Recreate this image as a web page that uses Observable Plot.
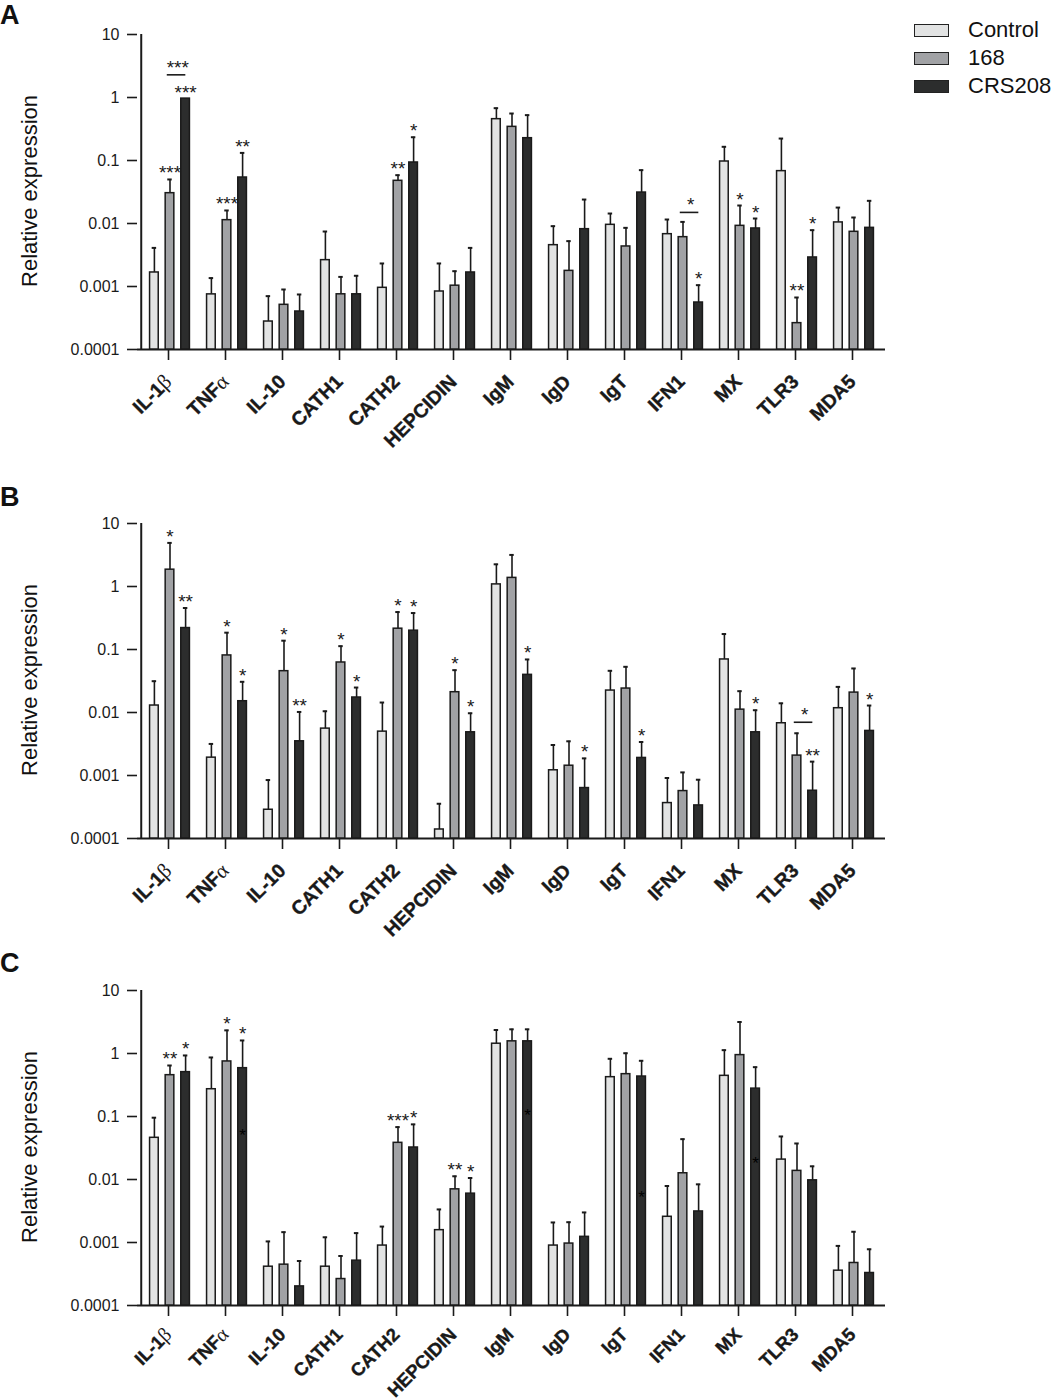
<!DOCTYPE html>
<html>
<head>
<meta charset="utf-8">
<script src="https://cdn.jsdelivr.net/npm/d3@7"></script>
<script src="https://cdn.jsdelivr.net/npm/@observablehq/plot@0.6"></script>
<style>
  html, body { margin: 0; padding: 0; background: #fff; }
  body { font-family: "Liberation Sans", Arial, sans-serif; color: #111; }
  #wrap { position: relative; width: 1054px; height: 1400px; overflow: hidden; background: #fff; }
  .panel { position: absolute; left: 0; }
  .letter { position: absolute; left: 0; font-weight: bold; font-size: 27px; line-height: 27px; }
  .ylab { position: absolute; left: 30px; font-size: 22px; line-height: 22px; white-space: nowrap;
          transform: translate(-50%, -50%) rotate(-90deg); }
  .legend { position: absolute; left: 914px; top: 16px; }
  .legend .row { height: 28px; display: flex; align-items: center; }
  .legend .sw { width: 35px; height: 13px; box-sizing: border-box; border: 1.5px solid #222; margin-right: 19px; }
  .legend .lb { font-size: 22px; line-height: 22px; white-space: nowrap; }
</style>
</head>
<body>
<div id="wrap"></div>
<script>
// ---------- data ----------
const genes = ["IL-1β", "TNFα", "IL-10", "CATH1", "CATH2", "HEPCIDIN", "IgM", "IgD", "IgT", "IFN1", "MX", "TLR3", "MDA5"];
const groups = ["Control", "168", "CRS208"];
const groupColors = ["#e2e3e3", "#a1a2a5", "#2c2d2d"];
const yTicks = [0.0001, 0.001, 0.01, 0.1, 1, 10];
const yTickLabels = ["0.0001", "0.001", "0.01", "0.1", "1", "10"];
const panelLetters = ["A", "B", "C"];
const yTitle = "Relative expression";

// Panel A
const controlA    = [0.00167, 0.00075, 0.000278, 0.00262, 0.000953, 0.000833, 0.453, 0.00453, 0.00953, 0.00677, 0.0964, 0.0678, 0.0104];
const controlAErr = [0.0041, 0.00136, 0.000703, 0.00746, 0.00232, 0.00232, 0.677, 0.00907, 0.0144, 0.01157, 0.165, 0.223, 0.0179];
const g168A       = [0.0303, 0.0113, 0.000512, 0.000752, 0.0476, 0.00103, 0.342, 0.00177, 0.00432, 0.00607, 0.00918, 0.000262, 0.00738];
const g168AErr    = [0.050, 0.0161, 0.000896, 0.00142, 0.0585, 0.00175, 0.557, 0.00525, 0.00853, 0.0106, 0.0193, 0.000669, 0.01245];
const crsA        = [0.96, 0.0537, 0.000401, 0.000752, 0.093, 0.00167, 0.226, 0.00813, 0.0310, 0.000557, 0.00834, 0.00289, 0.00853];
const crsAErr     = [null, 0.132, 0.000747, 0.00148, 0.234, 0.0041, 0.525, 0.024, 0.0703, 0.00105, 0.012, 0.00784, 0.0229];
const sigA = [["IL-1β","168","***"],["IL-1β","CRS208","***"],["TNFα","168","***"],["TNFα","CRS208","**"],
              ["CATH2","168","**"],["CATH2","CRS208","*"],["IFN1","CRS208","*"],["MX","168","*"],["MX","CRS208","*"],
              ["TLR3","168","**"],["TLR3","CRS208","*"]];
const bracketA = [["IL-1β", 2.29, "***"], ["IFN1", 0.015, "*"]];

// Panel B
const controlB    = [0.0129, 0.00192, 0.000286, 0.00555, 0.00497, 0.000139, 1.08, 0.00121, 0.0223, 0.000365, 0.0695, 0.00675, 0.0117];
const controlBErr = [0.0314, 0.00317, 0.000847, 0.01047, 0.0144, 0.000356, 2.25, 0.00305, 0.0459, 0.000912, 0.176, 0.014, 0.0255];
const g168B       = [1.85, 0.0805, 0.0453, 0.0622, 0.214, 0.021, 1.37, 0.00143, 0.024, 0.000566, 0.0111, 0.00207, 0.0207];
const g168BErr    = [4.92, 0.185, 0.138, 0.113, 0.393, 0.047, 3.17, 0.00349, 0.0531, 0.00112, 0.0218, 0.00468, 0.05];
const crsB        = [0.219, 0.0151, 0.00349, 0.0173, 0.199, 0.00485, 0.0396, 0.000632, 0.0019, 0.000335, 0.00485, 0.000573, 0.0051];
const crsBErr     = [0.456, 0.0307, 0.0102, 0.0249, 0.379, 0.00973, 0.0695, 0.00187, 0.0034, 0.000857, 0.01087, 0.00166, 0.0129];
const sigB = [["IL-1β","168","*"],["IL-1β","CRS208","**"],["TNFα","168","*"],["TNFα","CRS208","*"],
              ["IL-10","168","*"],["IL-10","CRS208","**"],["CATH1","168","*"],["CATH1","CRS208","*"],
              ["CATH2","168","*"],["CATH2","CRS208","*"],["HEPCIDIN","168","*"],["HEPCIDIN","CRS208","*"],
              ["IgM","CRS208","*"],["IgD","CRS208","*"],["IgT","CRS208","*"],["MX","CRS208","*"],
              ["TLR3","CRS208","**"],["MDA5","CRS208","*"]];
const bracketB = [["TLR3", 0.007, "*"]];

// Panel C
const controlC    = [0.0459, 0.271, 0.000413, 0.000413, 0.000894, 0.00157, 1.43, 0.000894, 0.421, 0.00256, 0.442, 0.0207, 0.000357];
const controlCErr = [0.0957, 0.865, 0.00104, 0.00121, 0.00179, 0.00335, 2.36, 0.00208, 0.824, 0.00789, 1.13, 0.0482, 0.000883];
const g168C       = [0.453, 0.748, 0.000445, 0.000263, 0.0382, 0.00698, 1.56, 0.000962, 0.47, 0.01256, 0.943, 0.0137, 0.000473];
const g168CErr    = [0.645, 2.33, 0.00146, 0.000611, 0.0679, 0.01125, 2.42, 0.0021, 1.01, 0.0437, 3.16, 0.0373, 0.00148];
const crsC        = [0.506, 0.585, 0.000201, 0.000515, 0.0322, 0.00596, 1.56, 0.00123, 0.431, 0.00311, 0.277, 0.0097, 0.000328];
const crsCErr     = [0.931, 1.61, 0.000509, 0.00141, 0.075, 0.01057, 2.42, 0.003, 0.766, 0.00838, 0.607, 0.0162, 0.000781];
const sigC = [["IL-1β","168","**"],["IL-1β","CRS208","*"],["TNFα","168","*"],["TNFα","CRS208","*"],
              ["CATH2","168","***"],["CATH2","CRS208","*"],["HEPCIDIN","168","**"],["HEPCIDIN","CRS208","*"]];
const bracketC = [];
// faint dark asterisks printed inside the CRS208 bars of panel C
const innerStarC = [["TNFα", 0.0507], ["IgM", 0.105], ["IgT", 0.00514], ["MX", 0.0177]];

// ---------- layout ----------
const W = 1054, ML = 137, MR = 169, MT = 20, PH = 315, MB = 100;
const BW = (W - ML - MR) / genes.length;
const OFFS = [-15.6, 0, 15.6];
const HALF = 4.6;
const INK = "#1a1a1a";
const FONT = "Liberation Sans, Arial, sans-serif";
const STAR = 19;

function makePanel(vals, errs, sig, brackets, inner, labelSize, labelPad, mb) {
  const marks = [];
  // axis lines
  marks.push(Plot.ruleY([1e-4], {stroke: INK, strokeWidth: 2}));
  marks.push(Plot.ruleX([genes[0]], {dx: -BW / 2, y1: 1e-4, y2: 10, stroke: INK, strokeWidth: 2}));

  groups.forEach((g, gi) => {
    const rows = genes.map((gene, i) => ({gene, v: vals[gi][i], e: errs[gi][i]}));
    const withErr = rows.filter(r => r.e != null);
    const o = OFFS[gi];
    marks.push(Plot.ruleX(withErr, {x: "gene", y1: "v", y2: "e", dx: o, stroke: INK, strokeWidth: 1.6}));
    marks.push(Plot.tickY(withErr, {x: "gene", y: "e", stroke: INK, strokeWidth: 2,
      insetLeft: BW / 2 + o - 2.5, insetRight: BW / 2 - o - 2.5}));
    marks.push(Plot.barY(rows, {x: "gene", y1: 1e-4, y2: "v", fill: groupColors[gi], stroke: INK, strokeWidth: 1.5,
      insetLeft: BW / 2 + o - HALF, insetRight: BW / 2 - o - HALF}));
    const sg = sig.filter(s => s[1] === g).map(s => {
      const i = genes.indexOf(s[0]);
      return {gene: s[0], y: errs[gi][i] != null ? errs[gi][i] : vals[gi][i], label: s[2]};
    });
    marks.push(Plot.text(sg, {x: "gene", y: "y", text: "label", dx: o, dy: 0, lineAnchor: "bottom",
      fontSize: STAR, fill: INK}));
  });

  const br = brackets.map(b => ({gene: b[0], y: b[1], label: b[2]}));
  marks.push(Plot.tickY(br, {x: "gene", y: "y", stroke: INK, strokeWidth: 1.6,
    insetLeft: BW / 2 + OFFS[1] - 3, insetRight: BW / 2 - OFFS[2] - 0.5}));
  marks.push(Plot.text(br, {x: "gene", y: "y", text: "label", dx: (OFFS[1] + OFFS[2]) / 2, dy: -1,
    lineAnchor: "bottom", fontSize: STAR, fill: INK}));

  const inn = inner.map(s => ({gene: s[0], y: s[1]}));
  marks.push(Plot.text(inn, {x: "gene", y: "y", text: () => "*", dx: OFFS[2], lineAnchor: "middle",
    fontSize: 17, fill: "#000"}));

  marks.push(Plot.axisY({ticks: yTicks, tickFormat: d => yTickLabels[yTicks.indexOf(d)], tickSize: 10,
    tickPadding: 8, fontSize: 16, label: null, stroke: INK, strokeWidth: 1.6}));
  marks.push(Plot.axisX({tickSize: 11, tickRotate: -45, tickPadding: labelPad, fontSize: labelSize, label: null,
    dx: -1.5, stroke: INK, strokeWidth: 1.6}));

  const svg = Plot.plot({
    width: W, height: MT + PH + mb,
    marginLeft: ML, marginRight: MR, marginTop: MT, marginBottom: mb,
    style: {fontFamily: FONT, color: INK, background: "transparent", overflow: "visible"},
    x: {type: "band", domain: genes, padding: 0, axis: null},
    y: {type: "log", domain: [1e-4, 10], axis: null},
    marks
  });

  // bold gene names, Greek letters in a light serif
  const ns = "http://www.w3.org/2000/svg";
  svg.querySelectorAll('g[aria-label="x-axis tick label"]').forEach(g => {
    g.setAttribute("font-weight", "bold");
    g.setAttribute("font-size", labelSize);
  });
  svg.querySelectorAll('g[aria-label="x-axis tick label"] text').forEach(t => {
    t.setAttribute("stroke", "#111"); t.setAttribute("stroke-width", "0.35");
    const m = t.textContent.match(/^(.*?)([αβ])$/);
    if (m) {
      t.textContent = "";
      const a = document.createElementNS(ns, "tspan"); a.textContent = m[1]; t.appendChild(a);
      const b = document.createElementNS(ns, "tspan"); b.textContent = m[2];
      b.setAttribute("font-weight", "normal"); b.setAttribute("stroke-width", "0");
      b.setAttribute("font-family", "Liberation Serif, DejaVu Serif, serif");
      b.setAttribute("font-size", labelSize + 1.5); t.appendChild(b);
    }
  });
  return svg;
}

const wrap = document.getElementById("wrap");
const panels = [
  {top: 13.7, letterTop: 2,   vals: [controlA, g168A, crsA], errs: [controlAErr, g168AErr, crsAErr], sig: sigA, br: bracketA, inner: [], ls: 19.5, lp: 18, mb: 100},
  {top: 502.7, letterTop: 484, vals: [controlB, g168B, crsB], errs: [controlBErr, g168BErr, crsBErr], sig: sigB, br: bracketB, inner: [], ls: 19.5, lp: 18, mb: 100},
  {top: 969.7, letterTop: 950, vals: [controlC, g168C, crsC], errs: [controlCErr, g168CErr, crsCErr], sig: sigC, br: bracketC, inner: innerStarC, ls: 18.5, lp: 15, mb: 95}
];
panels.forEach((p, k) => {
  const svg = makePanel(p.vals, p.errs, p.sig, p.br, p.inner, p.ls, p.lp, p.mb);
  const holder = document.createElement("div");
  holder.className = "panel"; holder.style.top = p.top + "px";
  holder.appendChild(svg); wrap.appendChild(holder);
  const L = document.createElement("div");
  L.className = "letter"; L.style.top = p.letterTop + "px"; L.textContent = panelLetters[k];
  wrap.appendChild(L);
  const Y = document.createElement("div");
  Y.className = "ylab"; Y.style.top = (p.top + MT + PH / 2) + "px"; Y.textContent = yTitle;
  wrap.appendChild(Y);
});

// legend
const leg = document.createElement("div");
leg.className = "legend";
groups.forEach((g, i) => {
  const row = document.createElement("div"); row.className = "row";
  const sw = document.createElement("div"); sw.className = "sw"; sw.style.background = groupColors[i];
  const lb = document.createElement("div"); lb.className = "lb"; lb.textContent = g;
  row.appendChild(sw); row.appendChild(lb); leg.appendChild(row);
});
wrap.appendChild(leg);
</script>
</body>
</html>
